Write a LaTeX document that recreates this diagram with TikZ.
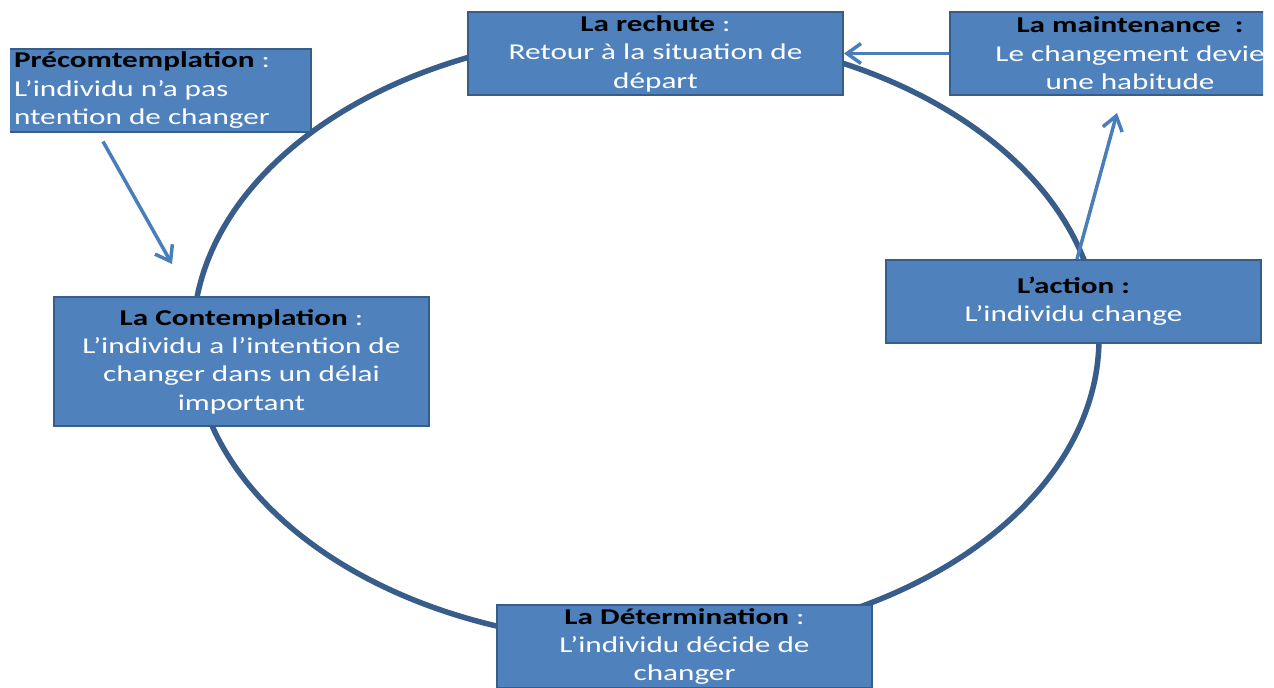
\documentclass[tikz,border=0pt]{standalone}
\usepackage{fontspec}
\setmainfont{Carlito}[FakeStretch=1.38]
\usetikzlibrary{arrows.meta}
\definecolor{boxfill}{RGB}{79,129,189}
\definecolor{boxline}{RGB}{56,93,138}
\definecolor{arrowblue}{RGB}{74,126,187}
\newcommand{\sttitle}[1]{{\color{black}\bfseries #1}}

\begin{document}
\begin{tikzpicture}[x=0.5pt,y=-0.5pt]
        \tikzset{stage/.style = {rectangle,draw=boxline,line width=1pt,fill=boxfill,text=white,align=center,inner sep=0pt,minimum width=187.5pt,minimum height=41.5pt,font=\fontsize{11.3pt}{14.2pt}\selectfont,execute at begin node={\rule{0pt}{11pt}}}}
        \tikzset{edge/.style = {draw=arrowblue,line width=1.75pt,-{Straight Barb[length=7pt,width=10pt]}}}
        \tikzset{ring/.style = {draw=boxline,line width=2.75pt}}
        \useasboundingbox (0,0) rectangle (1274,687);
        \begin{scope}
        \clip (10,0) rectangle (1263,687);
        % cycle
        \draw[ring] (646,338) ellipse [x radius=226.5pt, y radius=152.5pt];
        % vertices
        \node[stage] (rechute) at (655.5,53.5) {\sttitle{La rechute} :\\ Retour à la situation de\\ départ};
        \node[stage,minimum width=180pt] (maint) at (1130,53.5) {\sttitle{La maintenance\ \ :}\\ Le changement devie\\ une habitude};
        \node[stage,minimum width=169pt,align=left] (precom) at (142,90) {\sttitle{Précomtemplation} :\\ L’individu n’a pas\\ ntention de changer};
        \node[stage,minimum height=64.5pt] (contemp) at (241.5,361.5) {\sttitle{La Contemplation} :\\ L’individu a l’intention de\\ changer dans un délai\\ important};
        \node[stage] (action) at (1073.5,301.5) {\sttitle{L’action :}\\ L’individu change};
        \node[stage] (determ) at (684.5,646.5) {\sttitle{La Détermination} :\\ L’individu décide de\\ changer};
        %edges
        \draw[edge] (maint.west) -- (rechute.east);
        \draw[edge] ([xshift=1.75pt]action.north) -- ([xshift=-6.5pt,yshift=-8.5pt]maint.south);
        \draw[edge] ([xshift=-19.5pt,yshift=-4.5pt]precom.south) -- ([xshift=-34.75pt,yshift=16pt]contemp.north);
        \end{scope}
    \end{tikzpicture}
\end{document}
